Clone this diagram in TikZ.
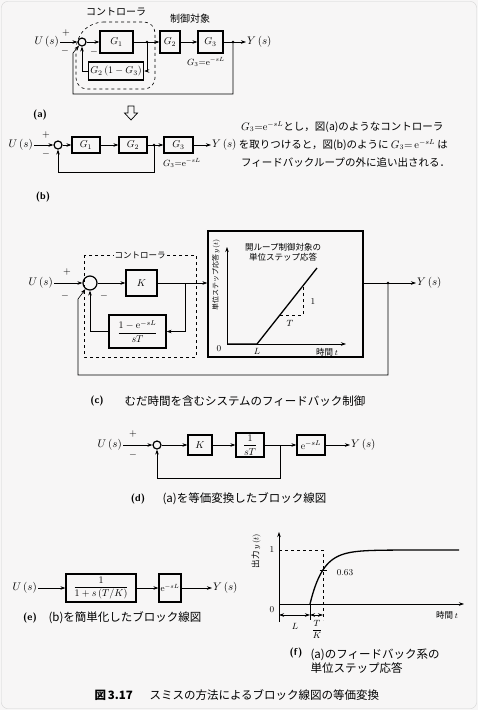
\documentclass[tikz,border=0pt]{standalone}
\usepackage{amsmath}
\usepackage{fontspec}
\newfontfamily\jp{Noto Sans CJK JP}
\usetikzlibrary{arrows.meta, positioning}
\definecolor{paper}{RGB}{247,246,246}

\begin{document}
\begin{tikzpicture}[x=1pt, y=-1pt, >={Stealth[length=5pt,width=3.5pt]},
  blk/.style={draw, line width=1.2pt, inner sep=2pt},
  sumpt/.style={draw, circle, line width=1.2pt, minimum size=8pt, inner sep=0pt},
  sig/.style={->, line width=0.6pt},
  wire/.style={line width=0.6pt},
  jlab/.style={font=\jp\fontsize{10}{12}\selectfont},
  jtxt/.style={font=\jp\fontsize{10.5}{12}\selectfont, inner sep=1pt},
  jcap/.style={font=\jp\fontsize{11.5}{14}\selectfont},
  jsm/.style={font=\jp\fontsize{8.5}{10}\selectfont, inner sep=1pt},
  tag/.style={font=\sffamily\bfseries\fontsize{10}{12}\selectfont},
  mth/.style={font=\fontsize{11}{13}\selectfont, inner sep=1pt},
  sgn/.style={font=\fontsize{10}{12}\selectfont, inner sep=0pt}]
  \useasboundingbox (0,0) rectangle (478,710);
  \fill[paper] (0,0) rectangle (478,710);
  \draw[gray!35, rounded corners=6pt] (1.5,1.5) rectangle (476.5,708.5);

  % ---- (a) controller wrapped round G1 ----
  \node[mth, anchor=east] (ua) at (60,42) {$U\,(s)$};
  \node[sumpt] (sa) at (82,42) {};
  \node[blk, minimum width=33pt, minimum height=22pt] (ga1) at (116.5,42) {$G_1$};
  \coordinate (ba1) at (147,42);
  \node[blk, minimum width=20pt, minimum height=22pt] (ga2) at (170,42) {$G_2$};
  \node[blk, minimum width=25pt, minimum height=22pt] (ga3) at (210.5,42) {$G_3$};
  \coordinate (ba2) at (233,42);
  \node[mth, anchor=west] (ya) at (246,42) {$Y\,(s)$};
  \node[blk, minimum width=52pt, minimum height=18pt] (fa) at (116,71) {$G_2\,(1-G_3)$};
  \coordinate (ca1) at (73,94);
  \coordinate (ca2) at (73,53);
  \draw[sig] (ua) -- (sa);
  \draw[sig] (sa) -- (ga1);
  \draw[wire] (ga1) -- (ba1);
  \draw[sig] (ba1) -- (ga2);
  \draw[sig] (ga2) -- (ga3);
  \draw[sig] (ga3) -- (ya);
  \draw[sig] (ba1) |- (fa);
  \draw[sig] (fa) -| (sa);
  \draw[sig] (ba2) |- (ca1) -- (ca2) -- (sa);
  \fill (ba1) circle (1.4);
  \fill (ba2) circle (1.4);
  \draw[dashed, wire, rounded corners=11pt] (92,22) -- (155,22) -- (155,89) -- (76,89) -- (76,38) -- cycle;
  \node[jlab] (ctla) at (116,12) {コントローラ};
  \node[jlab] (plta) at (190,19) {制御対象};
  \node[font=\small] (g3a) at (206,62) {$G_3{=}\mathrm{e}^{-sL}$};
  \node[sgn] (pa) at (66,33) {$+$};
  \node[sgn] (ma1) at (65,51) {$-$};
  \node[sgn] (ma2) at (94,52) {$-$};
  \node[tag] (tga) at (40,115) {(a)};
  \draw[line width=0.7pt] (128,106) -- (134,106) -- (134,113) -- (137.5,113) -- (131,120) -- (124.5,113) -- (128,113) -- cycle;

  % ---- (b) G3 pushed out of the loop ----
  \node[mth, anchor=east] (ub) at (34,145) {$U\,(s)$};
  \node[sumpt] (sb) at (58,145) {};
  \node[blk, minimum width=28pt, minimum height=16pt] (gb1) at (86,145) {$G_1$};
  \node[blk, minimum width=28pt, minimum height=16pt] (gb2) at (133,145) {$G_2$};
  \coordinate (bb) at (154,145);
  \node[blk, minimum width=29pt, minimum height=16pt] (gb3) at (178.5,145) {$G_3$};
  \node[mth, anchor=west] (yb) at (211,145) {$Y\,(s)$};
  \draw[sig] (ub) -- (sb);
  \draw[sig] (sb) -- (gb1);
  \draw[sig] (gb1) -- (gb2);
  \draw[sig] (gb2) -- (gb3);
  \draw[sig] (gb3) -- (yb);
  \draw[sig] (bb) -- ++(0,27) -| (sb);
  \fill (bb) circle (1.4);
  \node[sgn] (pb) at (46,135) {$+$};
  \node[sgn] (mb) at (46,154) {$-$};
  \node[font=\small] (g3b) at (182,163) {$G_3{=}\mathrm{e}^{-sL}$};
  \node[jtxt, anchor=west] (txb1) at (240,127) {$G_3{=}\mathrm{e}^{-sL}$とし，図(a)のようなコントローラ};
  \node[jtxt, anchor=west] (txb2) at (yb.east) {を取りつけると，図(b)のように $G_3{=}\,\mathrm{e}^{-sL}$ は};
  \node[jtxt, anchor=west] (txb3) at (240,162) {フィードバックループの外に追い出される．};
  \node[tag] (tgb) at (43,197) {(b)};

  % ---- (c) dead-time plant with Smith controller ----
  \node[mth, anchor=east] (uc) at (54,283) {$U\,(s)$};
  \node[sumpt, minimum size=14pt] (sc) at (90,283) {};
  \node[blk, minimum width=31pt, minimum height=26pt] (kc) at (141.5,283) {$K$};
  \coordinate (bc1) at (185,283);
  \node[blk, minimum width=57pt, minimum height=33pt] (fc) at (137.5,331.5) {$\dfrac{1-\mathrm{e}^{-sL}}{sT}$};
  \node[blk, line width=1.3pt, minimum width=155pt, minimum height=126pt] (pc) at (285.5,294) {};
  \coordinate (bc2) at (388,283);
  \node[mth, anchor=west] (yc) at (416,283) {$Y\,(s)$};
  \coordinate (cc1) at (78,375);
  \coordinate (cc2) at (78,299);
  \draw[sig] (uc) -- (sc);
  \draw[sig] (sc) -- (kc);
  \draw[sig] (kc) -- (pc.west |- kc);
  \draw[sig] (bc1) |- (fc);
  \draw[sig] (fc) -| (sc);
  \draw[wire] (pc.east |- kc) -- (bc2);
  \draw[sig] (bc2) -- (yc);
  \draw[sig] (bc2) |- (cc1) -- (cc2) -- (sc);
  \fill (bc2) circle (1.4);
  \draw[dashed, wire] (84,255) rectangle (196,357);
  \node[jsm, fill=paper] (ctlc) at (140,255) {コントローラ};
  \node[sgn] (pc1) at (67,272) {$+$};
  \node[sgn] (mc1) at (65,296) {$-$};
  \node[sgn] (mc2) at (104,296) {$-$};
  % open-loop step response inside the plant box
  \coordinate (oc) at (227,344);
  \draw[->, wire] (oc) -- (227,247);
  \draw[->, wire] (oc) -- (346,344);
  \draw[line width=1.3pt] (oc) -- (257,344) -- (317,268);
  \draw[dashed, wire] (280,315) -- (303,315) -- (303,286);
  \node[font=\small] (zc) at (219,349) {$0$};
  \node[font=\small] (lc) at (257,351) {$L$};
  \node[font=\small] (onec) at (313,302) {$1$};
  \node[font=\small] (tc) at (290,323) {$T$};
  \node[jsm] (timec) at (327,352) {時間 $t$};
  \node[font=\jp\fontsize{7}{8}\selectfont, rotate=90, inner sep=1pt] (ylc) at (216,275) {単位ステップ応答 $y(t)$};
  \node[jsm, align=center] (ttlc) at (283,252) {開ループ制御対象の\\単位ステップ応答};
  \node[tag] (tgc) at (97,401) {(c)};
  \node[jcap, anchor=west] (capc) at (121,401) {むだ時間を含むシステムのフィードバック制御};

  % ---- (d) equivalent block diagram ----
  \node[mth, anchor=east] (ud) at (123,445) {$U\,(s)$};
  \node[sumpt] (sd) at (157,445) {};
  \node[blk, minimum width=24pt, minimum height=20pt] (kd) at (200,445) {$K$};
  \node[blk, minimum width=28pt, minimum height=24pt, inner sep=1pt] (td) at (250,445) {$\dfrac{1}{sT}$};
  \coordinate (bd) at (280,445);
  \node[blk, minimum width=28pt, minimum height=20pt] (ed) at (311,445) {$\mathrm{e}^{-sL}$};
  \node[mth, anchor=west] (yd) at (350,445) {$Y\,(s)$};
  \draw[sig] (ud) -- (sd);
  \draw[sig] (sd) -- (kd);
  \draw[sig] (kd) -- (td);
  \draw[sig] (td) -- (ed);
  \draw[sig] (ed) -- (yd);
  \draw[sig] (bd) -- ++(0,33) -| (sd);
  \node[sgn] (pd) at (133,434) {$+$};
  \node[sgn] (md) at (133,455) {$-$};
  \node[tag] (tgd) at (138,499) {(d)};
  \node[jcap, anchor=west] (capd) at (159,499) {(a)を等価変換したブロック線図};

  % ---- (e) simplified ----
  \node[mth, anchor=east] (ue) at (38,588) {$U\,(s)$};
  \node[blk, minimum width=70pt, minimum height=28pt, inner sep=1pt] (fe) at (101,588) {$\dfrac{1}{1+s\,(T/K)}$};
  \node[blk, minimum width=22pt, minimum height=28pt, inner sep=1.5pt, font=\small] (ee) at (170,588) {$\mathrm{e}^{-sL}$};
  \node[mth, anchor=west] (ye) at (212,588) {$Y\,(s)$};
  \draw[sig] (ue) -- (fe);
  \draw[sig] (fe) -- (ee);
  \draw[sig] (ee) -- (ye);
  \node[tag] (tge) at (30,618) {(e)};
  \node[jcap, anchor=west] (cape) at (45,618) {(b)を簡単化したブロック線図};

  % ---- (f) closed-loop step response ----
  \coordinate (of) at (279,604);
  \draw[->, wire] (279,622) -- (279,532);
  \draw[->, wire] (of) -- (464,604);
  \draw[dashed, wire] (279,550) -- (323,550) -- (323,620);
  \draw[wire] (310,604) -- (310,620);
  \draw[line width=1.3pt] plot[domain=310:459, samples=90] (\x, {604-54*(1-exp(-(\x-310)/13))});
  \draw[wire] (319.5,570) -- (326.5,570);
  \draw[<->, wire] (279,615) -- (310,615);
  \draw[<->, wire] (310,615) -- (323,615);
  \node[font=\small] (onef) at (272,550) {$1$};
  \node[font=\small] (zf) at (272,610) {$0$};
  \node[font=\small] (p63) at (345,573) {$0.63$};
  \node[font=\small] (lf) at (295,626) {$L$};
  \node[font=\small, inner sep=1pt] (tkf) at (317,629) {$\dfrac{T}{K}$};
  \node[jsm] (timef) at (447,615) {時間 $t$};
  \node[jsm, rotate=90] (ylf) at (256,551) {出力 $y\,(t)$};
  \node[tag] (tgf) at (296,653) {(f)};
  \node[jcap, anchor=west, align=left] (capf) at (307,661) {(a)のフィードバック系の\\単位ステップ応答};

  % ---- figure caption ----
  \node[font=\jp\bfseries\fontsize{11.5}{14}\selectfont, anchor=west] (fig) at (91,695) {図\,3.17};
  \node[jcap, anchor=west] (capall) at (146,695) {スミスの方法によるブロック線図の等価変換};
\end{tikzpicture}
\end{document}
